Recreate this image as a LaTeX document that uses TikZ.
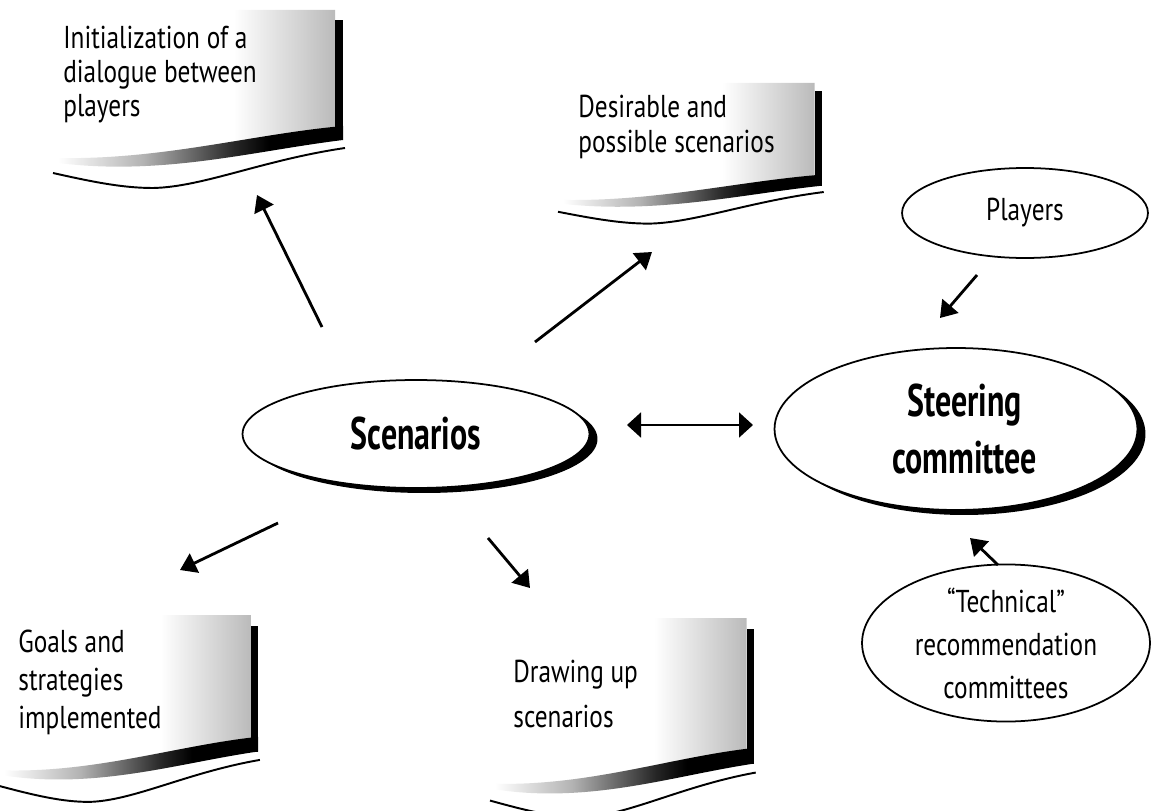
\documentclass[tikz,border=0pt]{standalone}
\usepackage{fontspec}
\setmainfont{PT Sans}[FakeStretch=0.8,BoldFeatures={FakeStretch=0.7}]
\usetikzlibrary{arrows.meta,shapes.geometric,shadows}
\pgfdeclarehorizontalshading{bodyshade}{100bp}{color(0bp)=(white); color(57bp)=(white); color(75bp)=(black!27); color(100bp)=(black!27)}
\pgfdeclarehorizontalshading{waveshade}{100bp}{color(0bp)=(white); color(25bp)=(white); color(40bp)=(black!30); color(56bp)=(black!85); color(62bp)=(black); color(100bp)=(black)}

\tikzset{
    bubble/.style={ellipse, draw, line width=1pt, fill=white, inner sep=0pt, align=center, font=\fontsize{18}{24.5}\selectfont},
    mainbubble/.style={bubble, font=\bfseries\fontsize{26}{32.4}\selectfont, drop shadow={shadow xshift=0.16cm, shadow yshift=-0.1cm, fill=black, opacity=1}},
    doctext/.style={anchor=north west, inner sep=0pt, align=left},
    link/.style={line width=1.6pt, -{Triangle[length=0.32cm,width=0.42cm]}},
    both/.style={line width=1.1pt, {Triangle[length=0.28cm,width=0.5cm]}-{Triangle[length=0.28cm,width=0.5cm]}},
    banner/.pic={
        \shade[shading=bodyshade] (0,0) -- (282,0) -- (282,117) .. controls (200,125) and (110,150) .. (5,150) -- (0,150) -- cycle;
        \shade[shading=waveshade] (5,148) .. controls (110,150) and (200,124) .. (290,116) -- (290,130) .. controls (200,141) and (110,166) .. (5,153) -- cycle;
        \fill (282,10) rectangle (290,130);
        \draw[line width=1.1pt] (0,163) .. controls (40,172) and (70,178) .. (100,178) .. controls (150,177) and (210,150) .. (292,138);
    }
}

\begin{document}
\begin{tikzpicture}[x=0.02cm, y=-0.02cm]
    \useasboundingbox (0,0) rectangle (1153,811);

    % the four papers
    \pic (bn1) at (53,10) {banner};
    \pic[xscale=0.91, yscale=0.79] (bn2) at (558,83) {banner};
    \pic[xscale=0.89, yscale=1.05] (bn3) at (0,615) {banner};
    \pic[xscale=0.91, yscale=1.12] (bn4) at (490,618) {banner};

    \node[doctext, font=\fontsize{18}{19.4}\selectfont] (dialogue) at (63,26) {Initialization of a\\dialogue between\\players};
    \node[doctext, font=\fontsize{18}{20}\selectfont] (desirable) at (578,95) {Desirable and\\possible scenarios};
    \node[doctext, font=\fontsize{18}{21.6}\selectfont] (goals) at (18,630) {Goals and\\strategies\\implemented};
    \node[doctext, font=\fontsize{18}{25.6}\selectfont] (drawing) at (513,660) {Drawing up\\scenarios};

    % ellipses
    \node[mainbubble, minimum width=6.94cm, minimum height=2.16cm] (scen) at (416,434) {Scenarios};
    \node[mainbubble, minimum width=7.26cm, minimum height=3.24cm] (steer) at (956,429) {\hspace{0.35cm}Steering\\\hspace{0.35cm}committee};
    \node[bubble, minimum width=4.92cm, minimum height=1.8cm] (players) at (1025,213) {Players};
    \node[bubble, minimum width=5.76cm, minimum height=2.72cm] (tech) at (1006,643) {“Technical”\\recommendation\\committees};

    % arrow ends
    \coordinate (s1) at (322,327);
    \coordinate (t1) at (257,195);
    \coordinate (s2) at (535,342);
    \coordinate (t2) at (652,252);
    \coordinate (s3) at (278,523);
    \coordinate (t3) at (180,570);
    \coordinate (s4) at (488,538);
    \coordinate (t4) at (530,588);
    \coordinate (dl) at (627,425);
    \coordinate (dr) at (753,425);
    \coordinate (p1) at (977,275);
    \coordinate (p2) at (940,318);
    \coordinate (c1) at (998,565);
    \coordinate (c2) at (970,538);

    \draw[link] (s1) -- (t1);
    \draw[link] (s2) -- (t2);
    \draw[link] (s3) -- (t3);
    \draw[link] (s4) -- (t4);
    \draw[both] (dl) -- (dr);
    \draw[link] (p1) -- (p2);
    \draw[link] (c1) -- (c2);
\end{tikzpicture}
\end{document}
